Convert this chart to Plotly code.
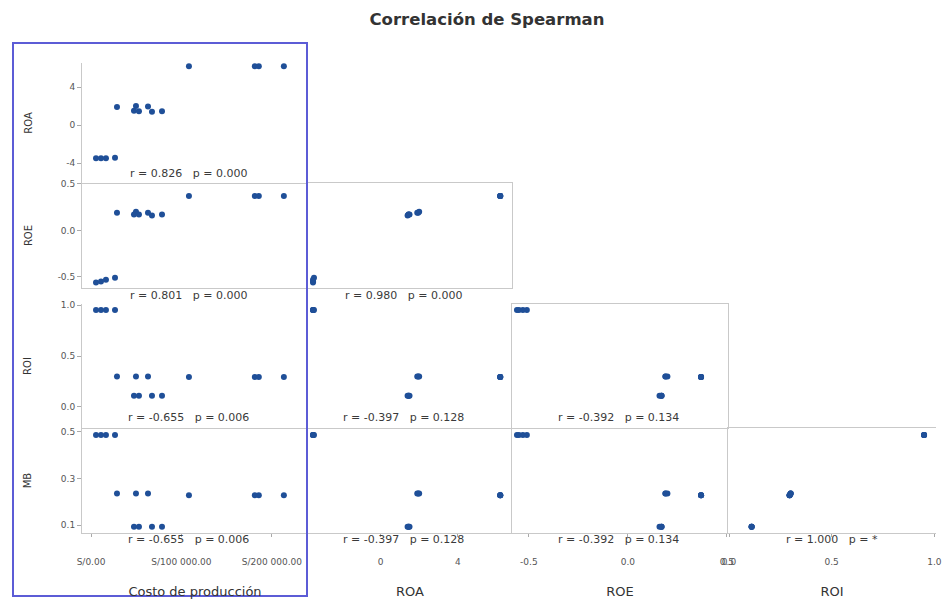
import plotly.graph_objects as go

# ---------------- data ----------------
costo = [5500, 11000, 16500, 26500, 28700, 49700, 63000, 47500, 53000, 67400, 78500,
         108300, 181200, 185600, 213300]
roa = [-3.5, -3.5, -3.5, -3.45, 1.9, 2.0, 1.95, 1.5, 1.45, 1.4, 1.45, 6.2, 6.2, 6.2, 6.2]
roe = [-0.56, -0.55, -0.53, -0.51, 0.19, 0.20, 0.19, 0.17, 0.17, 0.16, 0.17,
       0.37, 0.37, 0.37, 0.37]
roi = [0.95, 0.95, 0.95, 0.95, 0.30, 0.30, 0.30, 0.11, 0.11, 0.11, 0.11,
       0.295, 0.295, 0.295, 0.295]
mb = [0.487, 0.487, 0.487, 0.487, 0.235, 0.235, 0.235, 0.092, 0.092, 0.092, 0.092,
      0.228, 0.228, 0.228, 0.228]

row_vars = ["ROA", "ROE", "ROI", "MB"]
col_vars = ["Costo de producción", "ROA", "ROE", "ROI"]

r_vals = [["0.826"], ["0.801", "0.980"], ["-0.655", "-0.397", "-0.392"],
          ["-0.655", "-0.397", "-0.392", "1.000"]]
p_vals = [["0.000"], ["0.000", "0.000"], ["0.006", "0.128", "0.134"],
          ["0.006", "0.128", "0.134", "*"]]

costo_ticks = [0, 100000, 200000]
costo_ticktext = ["S/0.00", "S/100 000.00", "S/200 000.00"]
roa_ticks = [-4, 0, 4]
roa_ticktext = ["-4", "0", "4"]
roe_ticks = [-0.5, 0.0, 0.5]
roe_ticktext = ["-0.5", "0.0", "0.5"]
roi_ticks = [0.0, 0.5, 1.0]
roi_ticktext = ["0.0", "0.5", "1.0"]
mb_ticks = [0.1, 0.3, 0.5]
mb_ticktext = ["0.1", "0.3", "0.5"]

# ---------------- layout settings ----------------
W, H = 943, 599
series = {"Costo de producción": costo, "ROA": roa, "ROE": roe, "ROI": roi, "MB": mb}
ticks = {"Costo de producción": (costo_ticks, costo_ticktext), "ROA": (roa_ticks, roa_ticktext),
         "ROE": (roe_ticks, roe_ticktext), "ROI": (roi_ticks, roi_ticktext),
         "MB": (mb_ticks, mb_ticktext)}
col_px = [(82, 308), (308, 512), (512, 728), (728, 936)]
row_px = [(63, 183), (183, 288), (304, 428), (428, 533)]
col_range = [[-10000, 240000], [-3.76, 6.81], [-0.585, 0.506], [-0.005, 1.008]]
row_range = [[-6.1, 6.53], [-0.62, 0.51], [-0.206, 1.01], [0.0656, 0.517]]
ytitle_standoff = [31, 23, 27, 27]
ann_yshift = [10, -7, 11, -6]
ann_xshift = [-7, -7, -2, 0]

FONT = "DejaVu Sans"
LINE = "#c9c9c9"
MARK = "#1f4f98"
TICKFONT = dict(family=FONT, size=9, color="#555555")

fig = go.Figure()
layout = {}
annotations = []
k = 0
for i, rv in enumerate(row_vars):
    for j, cv in enumerate(col_vars[: i + 1]):
        k += 1
        sx = "" if k == 1 else str(k)
        fig.add_trace(go.Scatter(
            x=series[cv], y=series[rv], mode="markers",
            marker=dict(color=MARK, size=6, line=dict(width=0)),
            xaxis="x" + sx, yaxis="y" + sx, showlegend=False,
            hovertemplate=cv + ": %{x}<br>" + rv + ": %{y}<extra></extra>"))
        bottom = (i == 3)
        diag = (i == j)
        xt = ticks[cv]
        yt = ticks[rv]
        xa = dict(domain=[col_px[j][0] / W, col_px[j][1] / W], anchor="y" + sx,
                  range=col_range[j], showgrid=False, zeroline=False,
                  showline=True, linecolor=LINE, linewidth=1,
                  mirror=(diag and i > 0), automargin=False,
                  ticks="outside" if bottom else "", ticklen=3, tickcolor="#aaaaaa",
                  showticklabels=bottom, tickvals=xt[0], ticktext=xt[1],
                  tickfont=TICKFONT, ticklabelstandoff=17, ticklabeloverflow="allow")
        if bottom:
            xa["title"] = dict(text=cv, standoff=21,
                               font=dict(family=FONT, size=13, color="#333333"))
        ya = dict(domain=[1 - row_px[i][1] / H, 1 - row_px[i][0] / H], anchor="x" + sx,
                  range=row_range[i], showgrid=False, zeroline=False,
                  showline=True, linecolor=LINE, linewidth=1,
                  mirror=(diag and 0 < i < 3), automargin=False,
                  ticks="outside" if j == 0 else "", ticklen=4, tickcolor="#aaaaaa",
                  showticklabels=(j == 0), tickvals=yt[0], ticktext=yt[1],
                  tickfont=TICKFONT, ticklabeloverflow="allow")
        if j == 0:
            ya["title"] = dict(text=rv, standoff=ytitle_standoff[i],
                               font=dict(family=FONT, size=10, color="#333333"))
        layout["xaxis" + sx] = xa
        layout["yaxis" + sx] = ya
        annotations.append(dict(
            text="r = " + r_vals[i][j] + "\u00a0\u00a0 p = " + p_vals[i][j],
            xref="x" + sx + " domain", yref="y" + sx + " domain",
            x=0.5, y=0, xanchor="center", yanchor="middle",
            xshift=ann_xshift[j], yshift=ann_yshift[i], showarrow=False,
            font=dict(family=FONT, size=11, color="#3a3a3a")))

fig.update_layout(**layout)
fig.update_layout(
    template="none",
    width=W, height=H, autosize=False,
    margin=dict(l=0, r=0, t=0, b=0),
    paper_bgcolor="white", plot_bgcolor="rgba(0,0,0,0)",
    title=dict(text="Correlación de Spearman", x=487 / W, xanchor="center",
               y=1 - 19 / H, yanchor="middle", yref="container",
               font=dict(family=FONT, size=16.5, color="#333333", weight="bold")),
    annotations=annotations,
    shapes=[dict(type="rect", xref="paper", yref="paper",
                 x0=13 / W, x1=307 / W, y0=1 - 596 / H, y1=1 - 43 / H,
                 line=dict(color="#5c5cd6", width=2), fillcolor="rgba(0,0,0,0)")],
    showlegend=False,
)
fig.write_html("out.html")
